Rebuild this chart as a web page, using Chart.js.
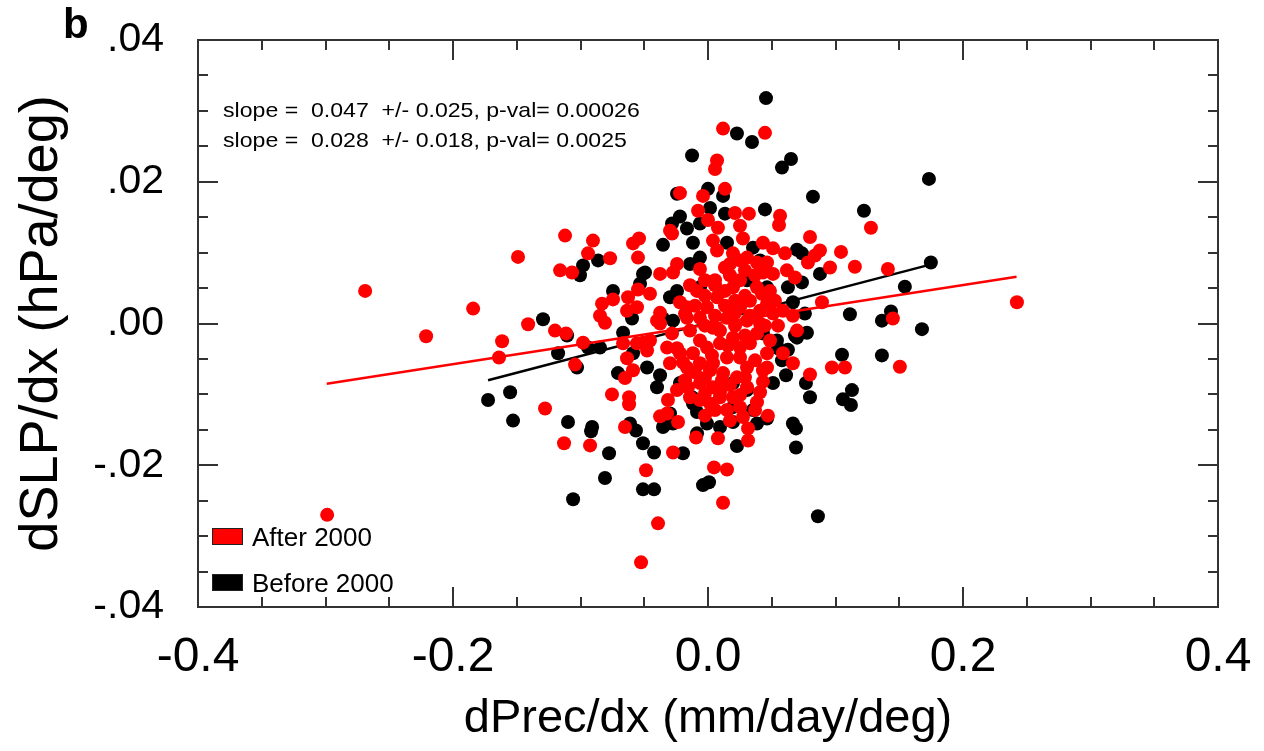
<!DOCTYPE html>
<html><head><meta charset="utf-8">
<script src="https://cdn.jsdelivr.net/npm/chart.js@4.4.1/dist/chart.umd.min.js"></script>
<style>html,body{margin:0;padding:0;background:#fff}#wrap{width:1264px;height:751px}canvas{display:block}</style>
</head><body><div id="wrap"><canvas id="c" width="1264" height="751"></canvas></div>
<script>
// ---- tick values / labels ----
const xTickValues = [-0.4, -0.2, 0.0, 0.2, 0.4];
const xTickLabels = ['-0.4', '-0.2', '0.0', '0.2', '0.4'];
const yTickValues = [-0.04, -0.02, 0.0, 0.02, 0.04];
const yTickLabels = ['-.04', '-.02', '.00', '.02', '.04'];

// ---- "Before 2000" (black) ----
const beforeX = [0.0455,0.0227,0.0345,-0.0125,0.0651,0.0580,0.1733,0.0000,-0.0243,0.0118,0.0823,0.0016,0.1223,0.0133,0.0447,-0.0220,-0.0282,-0.0063,-0.0165,-0.0353,-0.0118,0.0149,0.0353,0.0698,0.0737,0.1748,-0.0980,-0.0862,-0.1004,-0.0494,-0.0141,-0.0063,0.0408,-0.0510,-0.0533,0.0878,0.0737,0.0627,0.0463,0.0306,0.1544,-0.0745,-0.0243,-0.0063,-0.0298,0.0666,0.1435,0.0760,0.1113,-0.0596,-0.0353,-0.0274,-0.1294,0.1364,0.1678,-0.0666,-0.1105,0.0431,0.0682,0.0776,0.0541,0.0698,-0.0847,-0.0941,-0.1176,0.0549,0.0627,0.1051,0.1364,-0.0588,-0.0478,-0.1027,-0.0706,-0.0376,0.0612,0.0580,0.0510,0.0196,-0.0220,0.0768,0.0306,-0.0400,0.1129,-0.1552,-0.1725,-0.0125,0.0800,0.1058,0.1121,-0.0118,-0.0086,0.0196,0.0353,-0.0298,0.0463,-0.1529,-0.1098,-0.0612,-0.0274,-0.0008,0.0094,0.0196,0.0384,0.0666,0.0690,-0.0909,-0.0353,-0.0565,-0.0917,-0.0086,-0.0510,0.0227,0.0690,-0.0776,-0.0423,-0.0196,-0.0808,-0.0039,0.0008,-0.0510,-0.0423,-0.1058,0.0862,-0.0321];
const beforeY = [0.0318,0.0268,0.0256,0.0237,0.0232,0.0220,0.0204,0.0190,0.0183,0.0180,0.0179,0.0163,0.0159,0.0155,0.0161,0.0151,0.0141,0.0141,0.0134,0.0111,0.0114,0.0114,0.0107,0.0104,0.0099,0.0086,0.0082,0.0089,0.0068,0.0072,0.0084,0.0093,0.0089,0.0070,0.0056,0.0070,0.0058,0.0051,0.0051,0.0061,0.0052,0.0046,0.0046,0.0051,0.0037,0.0030,0.0017,0.0014,0.0013,0.0007,0.0007,0.0004,0.0006,0.0004,-0.0008,-0.0013,-0.0017,-0.0014,-0.0017,-0.0013,-0.0024,-0.0020,-0.0034,-0.0034,-0.0042,-0.0035,-0.0037,-0.0044,-0.0045,-0.0042,-0.0062,-0.0062,-0.0070,-0.0073,-0.0073,-0.0052,-0.0084,-0.0084,-0.0084,-0.0084,-0.0094,-0.0090,-0.0094,-0.0097,-0.0108,-0.0104,-0.0104,-0.0107,-0.0115,-0.0113,-0.0125,-0.0118,-0.0122,-0.0127,-0.0134,-0.0137,-0.0139,-0.0141,-0.0141,-0.0141,-0.0146,-0.0139,-0.0141,-0.0141,-0.0148,-0.0146,-0.0146,-0.0151,-0.0152,-0.0155,-0.0169,-0.0173,-0.0175,-0.0183,-0.0182,-0.0183,-0.0218,-0.0228,-0.0224,-0.0234,-0.0234,-0.0248,-0.0272,-0.0141];

// ---- "After 2000" (red) ----
const afterX = [0.0118,0.0447,0.0071,0.0055,-0.0220,-0.0039,0.0133,-0.0078,0.0000,0.0212,0.0321,0.0565,0.0557,0.1278,-0.0298,0.0078,0.0251,-0.0282,-0.1121,-0.0902,-0.0541,-0.0588,0.0039,0.0274,0.0431,0.0800,0.0071,-0.0941,-0.1490,-0.0768,-0.0549,0.0196,0.0306,0.0510,0.0604,0.0878,0.0839,0.1043,-0.1160,-0.1066,-0.0376,-0.0274,-0.0243,0.0172,0.0384,0.0463,0.0784,0.0957,0.1152,0.1411,-0.0063,0.0431,0.0510,0.0619,0.0682,0.0251,0.0196,0.0384,0.0423,-0.2689,-0.0455,-0.0627,-0.0549,-0.0745,-0.0831,0.0071,0.0329,-0.0220,0.0894,0.2423,0.0463,-0.1842,-0.0165,-0.0008,-0.0557,0.0251,-0.0635,-0.0376,-0.0180,0.0510,0.0588,0.0666,-0.0847,-0.0808,-0.0400,-0.0376,-0.0165,-0.0063,0.0149,0.0306,0.0408,0.1450,-0.1411,0.0039,0.0549,-0.0141,0.0698,-0.1200,-0.1113,-0.0282,0.0384,-0.2211,0.0196,-0.0455,-0.1615,-0.0980,-0.0666,-0.0557,-0.0510,0.0094,0.0329,-0.0243,-0.0321,-0.0008,0.0251,-0.0478,-0.0220,-0.0118,0.0463,0.0588,-0.1639,-0.0635,0.0149,-0.1043,-0.0298,-0.0196,-0.0063,0.0039,0.0666,0.1505,0.0972,0.1074,0.0463,0.0306,-0.0165,-0.0588,0.0016,0.0431,0.0118,0.0800,-0.0651,0.0227,-0.0180,0.0431,-0.0063,-0.0157,0.0306,0.0039,-0.0243,-0.0753,-0.0619,-0.0141,0.0094,0.0196,-0.0314,0.0384,-0.0619,0.0016,-0.1278,0.0369,0.0149,0.0470,-0.0376,-0.0321,0.0274,-0.0235,-0.0651,0.0314,-0.0094,0.0078,0.0314,-0.1129,-0.0925,-0.0274,-0.0486,0.0047,0.0149,0.0118,-0.0392,-0.0525,-0.2987,
  -0.0086,-0.0024,0.0055,0.0133,0.0212,0.0290,0.0133,0.0055,-0.0102,-0.0024,0.0094,0.0212,0.0290,-0.0063,0.0157,0.0031,0.0251,0.0369,-0.0102,-0.0024,0.0172,0.0290,0.0094,-0.0024,0.0251,0.0408,0.0055,0.0172,0.0290,-0.0024,-0.0141,0.0133,0.0251,0.0369,0.0486,0.0525,0.0329,0.0212,0.0408,0.0486,0.0447,0.0110,-0.0063,0.0055,0.0251,-0.0024,0.0172];
const afterY = [0.0275,0.0269,0.0230,0.0218,0.0184,0.0180,0.0190,0.0159,0.0146,0.0156,0.0155,0.0152,0.0139,0.0135,0.0131,0.0135,0.0138,0.0127,0.0124,0.0117,0.0120,0.0113,0.0117,0.0120,0.0114,0.0122,0.0103,0.0099,0.0094,0.0092,0.0093,0.0099,0.0093,0.0106,0.0099,0.0103,0.0096,0.0101,0.0075,0.0072,0.0070,0.0072,0.0084,0.0084,0.0086,0.0086,0.0086,0.0079,0.0080,0.0077,0.0077,0.0072,0.0070,0.0075,0.0065,0.0061,0.0051,0.0051,0.0042,0.0046,0.0042,0.0037,0.0048,0.0034,0.0028,0.0037,0.0032,0.0030,0.0030,0.0030,0.0028,0.0021,0.0023,0.0023,0.0023,0.0023,0.0018,0.0015,0.0014,0.0014,0.0018,0.0011,0.0011,0.0001,0.0004,0.0000,0.0008,0.0008,0.0008,0.0004,0.0000,0.0007,-0.0001,-0.0006,-0.0003,-0.0010,-0.0010,-0.0010,-0.0014,-0.0014,-0.0014,-0.0018,-0.0020,-0.0024,-0.0025,-0.0027,-0.0028,-0.0028,-0.0027,-0.0028,-0.0028,-0.0035,-0.0034,-0.0034,-0.0034,-0.0038,-0.0042,-0.0042,-0.0042,-0.0042,-0.0048,-0.0049,-0.0048,-0.0058,-0.0056,-0.0055,-0.0056,-0.0056,-0.0056,-0.0061,-0.0062,-0.0062,-0.0062,-0.0062,-0.0062,-0.0066,-0.0066,-0.0066,-0.0070,-0.0072,-0.0077,-0.0076,-0.0080,-0.0082,-0.0084,-0.0090,-0.0090,-0.0090,-0.0094,-0.0100,-0.0104,-0.0104,-0.0104,-0.0104,-0.0108,-0.0111,-0.0114,-0.0113,-0.0120,-0.0122,-0.0122,-0.0130,-0.0131,-0.0127,-0.0132,-0.0139,-0.0146,-0.0148,-0.0161,-0.0162,-0.0165,-0.0169,-0.0172,-0.0182,-0.0207,-0.0203,-0.0206,-0.0253,-0.0282,-0.0337,-0.0270,
  0.0046,0.0039,0.0054,0.0046,0.0032,0.0039,0.0025,0.0011,0.0025,-0.0003,-0.0010,-0.0003,-0.0017,-0.0024,-0.0031,-0.0045,-0.0048,-0.0052,-0.0069,-0.0077,-0.0087,-0.0076,-0.0097,-0.0099,-0.0101,-0.0097,0.0061,0.0068,0.0075,0.0061,0.0054,0.0079,0.0089,0.0068,0.0046,0.0032,0.0011,0.0015,0.0018,-0.0024,-0.0003,-0.0080,-0.0108,-0.0122,-0.0118,-0.0130,-0.0137];

// ---- regression lines (end points) ----
const afterFitX = [-0.299, 0.242];
const afterFitY = [-0.0085, 0.0066];
const beforeFitX = [-0.1725, 0.172];
const beforeFitY = [-0.0080, 0.0082];

const annotations = [
  'slope =  0.047  +/- 0.025, p-val= 0.00026',
  'slope =  0.028  +/- 0.018, p-val= 0.0025'
];
const legendLabels = ['After 2000', 'Before 2000'];
const seriesColors = ['#ff0000', '#000000'];

const pts = (xs, ys) => xs.map((x, i) => ({x: x, y: ys[i]}));
const FONT = "'Liberation Sans', Arial, Helvetica, sans-serif";

const framePlugin = {
  id: 'frame',
  afterDatasetsDraw(chart) {
    const ctx = chart.ctx, a = chart.chartArea;
    const xs = chart.scales.x, ys = chart.scales.y;
    ctx.save();
    ctx.strokeStyle = '#333';
    ctx.lineWidth = 2;
    ctx.strokeRect(a.left, a.top, a.right - a.left, a.bottom - a.top);
    const maj = 20, mn = 10;
    ctx.beginPath();
    const xStep = (xTickValues[1] - xTickValues[0]) / 4;
    for (let k = 0; k <= Math.round((xs.max - xs.min) / xStep); k++) {
      const v = xs.min + k * xStep;
      const p = Math.round(xs.getPixelForValue(v));
      const L = (k % 4 === 0) ? maj : mn;
      ctx.moveTo(p, a.bottom); ctx.lineTo(p, a.bottom - L);
      ctx.moveTo(p, a.top); ctx.lineTo(p, a.top + L);
    }
    const yStep = (yTickValues[1] - yTickValues[0]) / 4;
    for (let k = 0; k <= Math.round((ys.max - ys.min) / yStep); k++) {
      const v = ys.min + k * yStep;
      const p = Math.round(ys.getPixelForValue(v));
      const L = (k % 4 === 0) ? maj : mn;
      ctx.moveTo(a.left, p); ctx.lineTo(a.left + L, p);
      ctx.moveTo(a.right, p); ctx.lineTo(a.right - L, p);
    }
    ctx.stroke();
    ctx.restore();
  },
  afterDraw(chart) {
    const ctx = chart.ctx, a = chart.chartArea;
    ctx.save();
    ctx.fillStyle = '#000';
    ctx.textBaseline = 'alphabetic';
    // panel letter
    ctx.font = 'bold 42px ' + FONT;
    ctx.fillText('b', 63, 38);
    // slope annotations
    ctx.font = '21px ' + FONT;
    const sx = 1.1;
    annotations.forEach((t, i) => {
      ctx.save();
      ctx.translate(a.left + 25, a.top + 77 + i * 30);
      ctx.scale(sx, 1);
      ctx.fillText(t, 0, 0);
      ctx.restore();
    });
    // legend
    ctx.font = '26px ' + FONT;
    legendLabels.forEach((t, i) => {
      const top = a.top + 488 + i * 46;
      ctx.fillStyle = seriesColors[i];
      ctx.fillRect(a.left + 14, top, 31, 17);
      ctx.strokeStyle = '#222';
      ctx.lineWidth = 1;
      ctx.strokeRect(a.left + 14.5, top + 0.5, 30, 16);
      ctx.fillStyle = '#000';
      ctx.fillText(t, a.left + 54, top + 17.5);
    });
    ctx.restore();
  }
};

new Chart(document.getElementById('c'), {
  type: 'scatter',
  data: {
    datasets: [
      {label: legendLabels[0], data: pts(afterX, afterY), backgroundColor: seriesColors[0],
       pointRadius: 7, pointBorderWidth: 0, borderWidth: 0, order: 0},
      {label: 'fit after', data: pts(afterFitX, afterFitY), showLine: true, borderColor: seriesColors[0],
       borderWidth: 2.5, pointRadius: 0, order: 1},
      {label: 'fit before', data: pts(beforeFitX, beforeFitY), showLine: true, borderColor: seriesColors[1],
       borderWidth: 2.5, pointRadius: 0, order: 1},
      {label: legendLabels[1], data: pts(beforeX, beforeY), backgroundColor: seriesColors[1],
       pointRadius: 7, pointBorderWidth: 0, borderWidth: 0, order: 2}
    ]
  },
  options: {
    responsive: false,
    animation: false,
    devicePixelRatio: 1,
    layout: {padding: {top: 40, right: 46, left: 0, bottom: 0}},
    plugins: {legend: {display: false}, tooltip: {enabled: false}},
    scales: {
      x: {
        type: 'linear', min: -0.4, max: 0.4,
        afterBuildTicks: s => { s.ticks = xTickValues.map(v => ({value: v})); },
        afterFit: s => { s.height = 144; s.paddingLeft = 0; s.paddingRight = 0; },
        ticks: {callback: (v, i) => xTickLabels[i], color: '#000', padding: 22, maxRotation: 0, autoSkip: false,
                font: {family: FONT, size: 48}},
        grid: {display: false, drawTicks: false},
        border: {display: false},
        title: {display: true, text: 'dPrec/dx (mm/day/deg)', color: '#000',
                font: {family: FONT, size: 47}, padding: {top: 0, bottom: 4}}
      },
      y: {
        type: 'linear', min: -0.04, max: 0.04,
        afterBuildTicks: s => { s.ticks = yTickValues.map(v => ({value: v})); },
        afterFit: s => { s.width = 198; s.paddingTop = 0; s.paddingBottom = 0; },
        ticks: {callback: (v, i) => yTickLabels[i], color: '#000', padding: 34, autoSkip: false,
                font: {family: FONT, size: 41}},
        grid: {display: false, drawTicks: false},
        border: {display: false},
        title: {display: true, text: 'dSLP/dx (hPa/deg)', color: '#000',
                font: {family: FONT, size: 54}, padding: {top: 10, bottom: 0}}
      }
    }
  },
  plugins: [framePlugin]
});
</script>
</body></html>
